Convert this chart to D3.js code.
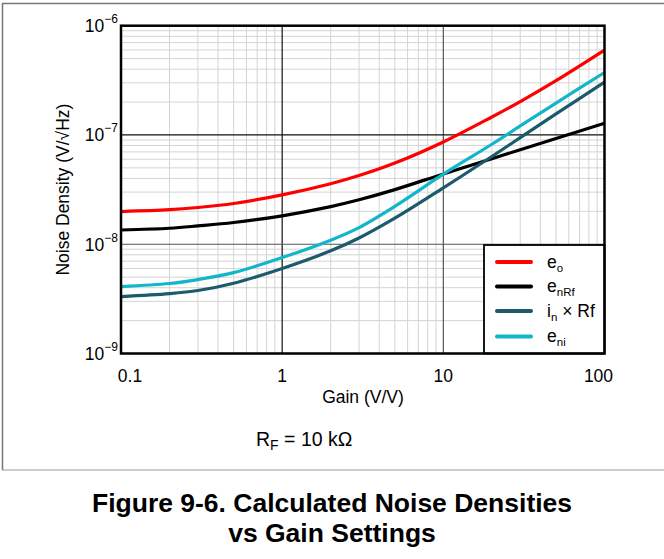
<!DOCTYPE html>
<html><head><meta charset="utf-8">
<script src="https://cdn.jsdelivr.net/npm/d3@7/dist/d3.min.js"></script>
<style>
html,body{margin:0;padding:0;background:#fff;}
svg{display:block;font-family:"Liberation Sans",Arial,sans-serif;}
</style></head>
<body>
<svg id="chart" width="664" height="559"></svg>
<script>
// ---- data ----
const gains = [0.1, 0.2, 0.3, 0.5, 1, 2, 3, 5, 10, 20, 30, 50, 100];
const eo    = [1.99e-8, 2.07e-8, 2.17e-8, 2.36e-8, 2.83e-8, 3.58e-8, 4.25e-8, 5.53e-8, 8.63e-8, 1.46e-7, 2.02e-7, 3.14e-7, 5.98e-7];
const enRf  = [1.35e-8, 1.40e-8, 1.47e-8, 1.58e-8, 1.82e-8, 2.21e-8, 2.55e-8, 3.16e-8, 4.4e-8, 6.07e-8, 7.33e-8, 9.29e-8, 1.28e-7];
const inRf  = [3.32e-9, 3.53e-9, 3.77e-9, 4.4e-9, 6.0e-9, 8.7e-9, 1.14e-8, 1.73e-8, 3.28e-8, 6.35e-8, 9.45e-8, 1.56e-7, 3.04e-7];
const eni   = [4.1e-9, 4.37e-9, 4.75e-9, 5.5e-9, 7.55e-9, 1.09e-8, 1.42e-8, 2.22e-8, 4.38e-8, 8.22e-8, 1.21e-7, 1.96e-7, 3.73e-7];
const xTicks = [0.1, 1, 10, 100];
const xTickLabels = ["0.1", "1", "10", "100"];
const yTicks = [1e-9, 1e-8, 1e-7, 1e-6];
const yTickExp = ["−9", "−8", "−7", "−6"];
const seriesNames = ["eo", "enRf", "inRf", "eni"];
const seriesColors = ["#ff0000", "#000000", "#1b5b6b", "#12b6ca"];

const svg = d3.select("#chart");
const L = 121, R = 604.5, T = 25.7, B = 353.5;
const x = d3.scaleLog().domain([0.1, 100]).range([L, R]);
const y = d3.scaleLog().domain([1e-9, 1e-6]).range([B, T]);

// outer frame
svg.append("line").attr("x1",2).attr("x2",664).attr("y1",3.5).attr("y2",3.5).attr("stroke","#777").attr("stroke-width",1.5);
svg.append("line").attr("x1",2.5).attr("x2",2.5).attr("y1",3).attr("y2",470).attr("stroke","#777").attr("stroke-width",1.5);
svg.append("line").attr("x1",2).attr("x2",664).attr("y1",470).attr("y2",470).attr("stroke","#999").attr("stroke-width",1);

// minor gridlines
const g = svg.append("g");
const minorX = [], minorY = [];
[0.1, 1, 10].forEach(d => { for (let k = 2; k <= 9; k++) minorX.push(d * k); });
[1e-9, 1e-8, 1e-7].forEach(d => { for (let k = 2; k <= 9; k++) minorY.push(d * k); });
g.selectAll(".mx").data(minorX).enter().append("line")
  .attr("x1", d => x(d)).attr("x2", d => x(d)).attr("y1", T).attr("y2", B)
  .attr("stroke", "#d4d4d4").attr("stroke-width", 1);
g.selectAll(".my").data(minorY).enter().append("line")
  .attr("y1", d => y(d)).attr("y2", d => y(d)).attr("x1", L).attr("x2", R)
  .attr("stroke", "#d4d4d4").attr("stroke-width", 1);
// major gridlines
const majX = [{v:1,c:"#111"},{v:10,c:"#555"}];
const majY = [{v:1e-7,c:"#111"},{v:1e-8,c:"#555"}];
g.selectAll(".Mx").data(majX).enter().append("line")
  .attr("x1", d => x(d.v)).attr("x2", d => x(d.v)).attr("y1", T).attr("y2", B)
  .attr("stroke", d => d.c).attr("stroke-width", 1.2);
g.selectAll(".My").data(majY).enter().append("line")
  .attr("y1", d => y(d.v)).attr("y2", d => y(d.v)).attr("x1", L).attr("x2", R)
  .attr("stroke", d => d.c).attr("stroke-width", 1.2);

// curves
const allSeries = [eo, enRf, inRf, eni];
const line = d3.line().x(d => x(d[0])).y(d => y(d[1])).curve(d3.curveCatmullRom.alpha(0.5));
svg.append("defs").append("clipPath").attr("id","clip").append("rect")
  .attr("x",L).attr("y",T).attr("width",R-L).attr("height",B-T);
const cg = svg.append("g").attr("clip-path","url(#clip)");
// draw order: black, dark teal, cyan, red
[1, 2, 3, 0].forEach(i => {
  cg.append("path").datum(gains.map((gv, j) => [gv, allSeries[i][j]]))
    .attr("d", line).attr("fill", "none")
    .attr("stroke", seriesColors[i]).attr("stroke-width", 3.2)
    .attr("stroke-linejoin","round");
});

// legend
const lg = svg.append("g");
lg.append("rect").attr("x", 484).attr("y", 245).attr("width", R - 484).attr("height", B - 245)
  .attr("fill", "#fff").attr("stroke", "#000").attr("stroke-width", 1.8);
const legY = [262, 286.5, 311, 336.5];
seriesNames.forEach((n, i) => {
  lg.append("line").attr("x1", 497).attr("x2", 531).attr("y1", legY[i]).attr("y2", legY[i])
    .attr("stroke", seriesColors[i]).attr("stroke-width", 4).attr("stroke-linecap","round");
});
function legText(i, main, sub, rest) {
  const t = lg.append("text").attr("x", 547).attr("y", legY[i] + 5.5)
    .attr("font-size", 17.5).attr("fill", "#000");
  t.append("tspan").text(main);
  t.append("tspan").attr("font-size", 11.5).attr("dy", 4).text(sub);
  if (rest) t.append("tspan").attr("dy", -4).text(rest);
}
legText(0, "e", "o");
legText(1, "e", "nRf");
legText(2, "i", "n", " × Rf");
legText(3, "e", "ni");

// plot border
svg.append("rect").attr("x", L).attr("y", T).attr("width", R - L).attr("height", B - T)
  .attr("fill", "none").attr("stroke", "#000").attr("stroke-width", 2.5);

// x tick labels
const xOff = [9, 0, 0, -6];
svg.selectAll(".xt").data(xTicks).enter().append("text")
  .attr("x", (d, i) => x(d) + xOff[i]).attr("y", 382)
  .attr("text-anchor", "middle").attr("font-size", 17.5).attr("fill", "#000")
  .text((d, i) => xTickLabels[i]);

// y tick labels
yTicks.forEach((d, i) => {
  const t = svg.append("text").attr("x", 118).attr("y", y(d) + 6.5)
    .attr("text-anchor", "end").attr("font-size", 17.5).attr("fill", "#000");
  t.append("tspan").text("10");
  t.append("tspan").attr("font-size", 12).attr("dy", -9).text(yTickExp[i]);
});

// axis titles
svg.append("text").attr("x", 363).attr("y", 403).attr("text-anchor", "middle")
  .attr("font-size", 17.5).text("Gain (V/V)");
svg.append("text").attr("transform", "translate(69," + ((T + B) / 2) + ") rotate(-90)")
  .attr("text-anchor", "middle").attr("font-size", 17.5).text("Noise Density (V/√Hz)");

// RF annotation
const rf = svg.append("text").attr("x", 256).attr("y", 446).attr("font-size", 19.5);
rf.append("tspan").text("R");
rf.append("tspan").attr("font-size", 14).attr("dy", 4).text("F");
rf.append("tspan").attr("dy", -4).text(" = 10 kΩ");

// caption
svg.append("text").attr("x", 332).attr("y", 512).attr("text-anchor", "middle")
  .attr("font-size", 26.5).attr("font-weight", "bold").text("Figure 9-6. Calculated Noise Densities");
svg.append("text").attr("x", 332).attr("y", 542).attr("text-anchor", "middle")
  .attr("font-size", 26.5).attr("font-weight", "bold").text("vs Gain Settings");
</script>
</body></html>
